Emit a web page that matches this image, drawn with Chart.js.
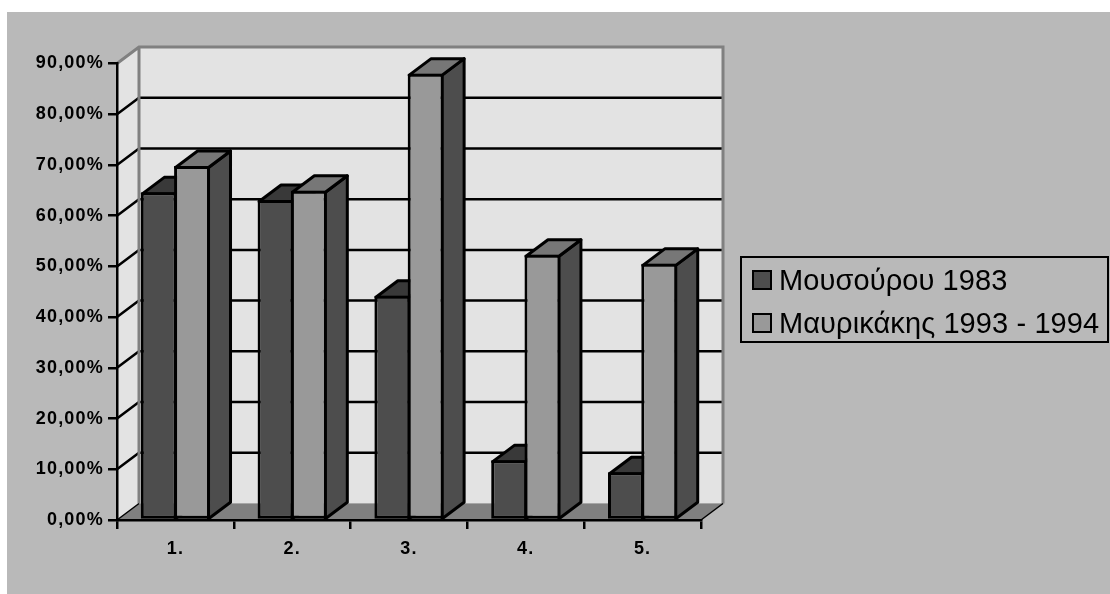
<!DOCTYPE html>
<html>
<head>
<meta charset="utf-8">
<style>html,body{margin:0;padding:0;background:#fff}canvas{display:block}</style>
<script src="https://cdn.jsdelivr.net/npm/chart.js@4"></script>
</head>
<body>
<canvas id="c" width="1110" height="594"></canvas>
<script>
const categories = ['1.', '2.', '3.', '4.', '5.'];
const seriesNames = ['Μουσούρου 1983', 'Μαυρικάκης 1993 - 1994'];
const mousourou = [64.6, 63.1, 44.2, 11.8, 9.4];
const mavrikakis = [69.8, 64.9, 88, 52.3, 50.5];

const DX = 22, DY = 16.5;
const BG = '#b9b9b9', WALL = '#e3e3e3', FLOOR = '#808080', EDGE = '#808080';
const FRONT = ['#4d4d4d', '#999999'];
const TOP = ['#393939', '#777777'];
const SIDE = ['#393939', '#4d4d4d'];

function poly(ctx, pts, fill, stroke, lw) {
  ctx.beginPath();
  pts.forEach((p, i) => i ? ctx.lineTo(p[0], p[1]) : ctx.moveTo(p[0], p[1]));
  ctx.closePath();
  if (fill) { ctx.fillStyle = fill; ctx.fill(); }
  if (stroke) { ctx.strokeStyle = stroke; ctx.lineWidth = lw; ctx.stroke(); }
}

const scene = {
  id: 'scene',
  afterLayout(chart) {
    const l = chart.legend;
    l.left = 739; l.right = 1108; l.top = 253; l.bottom = 450;
    l.width = 369; l.height = 197;
    if (!l._wrapped) {
      const orig = l.draw;
      l.draw = function (a) {
        const c = chart.ctx;
        const prev = c.letterSpacing;
        c.letterSpacing = '0.1px';
        orig.call(this, a);
        c.letterSpacing = prev;
      };
      l._wrapped = true;
    }
  },
  beforeDraw(chart) {
    const ctx = chart.ctx;
    const { left: L, right: R } = chart.chartArea;
    const y = chart.scales.y;
    const B = y.getPixelForValue(0), T = y.getPixelForValue(90);
    ctx.save();
    ctx.fillStyle = '#fff'; ctx.fillRect(0, 0, 1110, 594);
    ctx.fillStyle = BG; ctx.fillRect(7, 12, 1103, 582);
    // walls
    poly(ctx, [[L, B], [L + DX, B - DY], [L + DX, T - DY], [L, T]], WALL);
    ctx.fillStyle = WALL; ctx.fillRect(L + DX, T - DY, R - L, B - T);
    // floor
    poly(ctx, [[L, B], [L + DX, B - DY], [R + DX, B - DY], [R, B]], FLOOR);
    // grid lines on side wall and back wall
    ctx.strokeStyle = '#000'; ctx.lineWidth = 2.5;
    y.ticks.forEach(t => {
      if (t.value === 0 || t.value === 90) return;
      const p = y.getPixelForValue(t.value);
      ctx.beginPath();
      ctx.moveTo(L, p); ctx.lineTo(L + DX, p - DY); ctx.lineTo(R + DX, p - DY);
      ctx.stroke();
    });
    // wall edges
    ctx.strokeStyle = EDGE; ctx.lineWidth = 3;
    ctx.beginPath();
    ctx.moveTo(L, T); ctx.lineTo(L + DX, T - DY); ctx.lineTo(R + DX, T - DY); ctx.lineTo(R + DX, B - DY);
    ctx.moveTo(L + DX, T - DY); ctx.lineTo(L + DX, B - DY);
    ctx.stroke();
    // floor edges
    ctx.strokeStyle = '#000'; ctx.lineWidth = 1.5;
    ctx.beginPath();
    ctx.moveTo(L, B); ctx.lineTo(L + DX, B - DY);
    ctx.moveTo(R, B); ctx.lineTo(R + DX, B - DY);
    ctx.stroke();
    // legend frame and swatches
    ctx.strokeStyle = '#000'; ctx.lineWidth = 2;
    ctx.strokeRect(741, 257, 367, 85);
    chart.data.datasets.forEach((d, i) => {
      const sy = 271 + i * 43;
      ctx.fillStyle = d.backgroundColor;
      ctx.fillRect(753, sy, 18, 18);
      ctx.strokeRect(753, sy, 18, 18);
    });
    ctx.restore();
    ctx.letterSpacing = '1.2px';
  },
  beforeDatasetsDraw(chart) {
    const ctx = chart.ctx;
    ctx.save();
    ctx.lineJoin = 'round';
    [0, 1].forEach(i => {
      chart.getDatasetMeta(i).data.forEach(el => {
        const p = el.getProps(['x', 'y', 'base', 'width'], true);
        const l = p.x - p.width / 2 + 1.5, r = p.x + p.width / 2 - 1.5, t = p.y + 1.5, b = p.base;
        poly(ctx, [[r, t], [r + DX, t - DY], [r + DX, b - DY], [r, b]], SIDE[i], '#000', 3);
        poly(ctx, [[l, t], [l + DX, t - DY], [r + DX, t - DY], [r, t]], TOP[i], '#000', 3);
      });
    });
    ctx.restore();
  }
};

new Chart(document.getElementById('c'), {
  type: 'bar',
  data: {
    labels: categories,
    datasets: [
      { label: seriesNames[0], data: mousourou, backgroundColor: FRONT[0] },
      { label: seriesNames[1], data: mavrikakis, backgroundColor: FRONT[1] }
    ]
  },
  plugins: [scene],
  options: {
    responsive: false,
    animation: false,
    devicePixelRatio: 1,
    layout: { padding: { left: 0, top: 63.5, right: 409, bottom: 0 } },
    datasets: { bar: { borderColor: '#000', borderWidth: 3, borderSkipped: false, categoryPercentage: 0.57, barPercentage: 1.08 } },
    plugins: {
      tooltip: { enabled: false },
      title: { display: false },
      legend: {
        position: 'chartArea',
        align: 'start',
        labels: {
          boxWidth: 11.5,
          boxHeight: 20,
          padding: 14,
          color: '#000',
          font: { family: '"Liberation Sans"', size: 29 },
          generateLabels: chart => chart.data.datasets.map((d, i) => ({
            text: d.label, fillStyle: 'rgba(0,0,0,0)', strokeStyle: 'rgba(0,0,0,0)', lineWidth: 0, datasetIndex: i, hidden: false
          }))
        }
      }
    },
    scales: {
      x: {
        afterFit: s => { s.height = 74; },
        grid: { drawOnChartArea: false, color: '#000', lineWidth: 2.5, tickLength: 9, offset: true },
        border: { color: '#000', width: 2.5 },
        ticks: { color: '#000', padding: 9, maxRotation: 0, font: { family: '"Liberation Sans"', size: 18, weight: 'bold' } }
      },
      y: {
        min: 0, max: 90,
        afterFit: s => { s.width = 117; },
        grid: { drawOnChartArea: false, color: '#000', lineWidth: 2.5, tickLength: 9 },
        border: { color: '#000', width: 2.5 },
        ticks: {
          stepSize: 10, color: '#000', padding: 4,
          font: { family: '"Liberation Sans"', size: 18, weight: 'bold' },
          callback: v => v.toFixed(2).replace('.', ',') + '%'
        }
      }
    }
  }
});
</script>
</body>
</html>
